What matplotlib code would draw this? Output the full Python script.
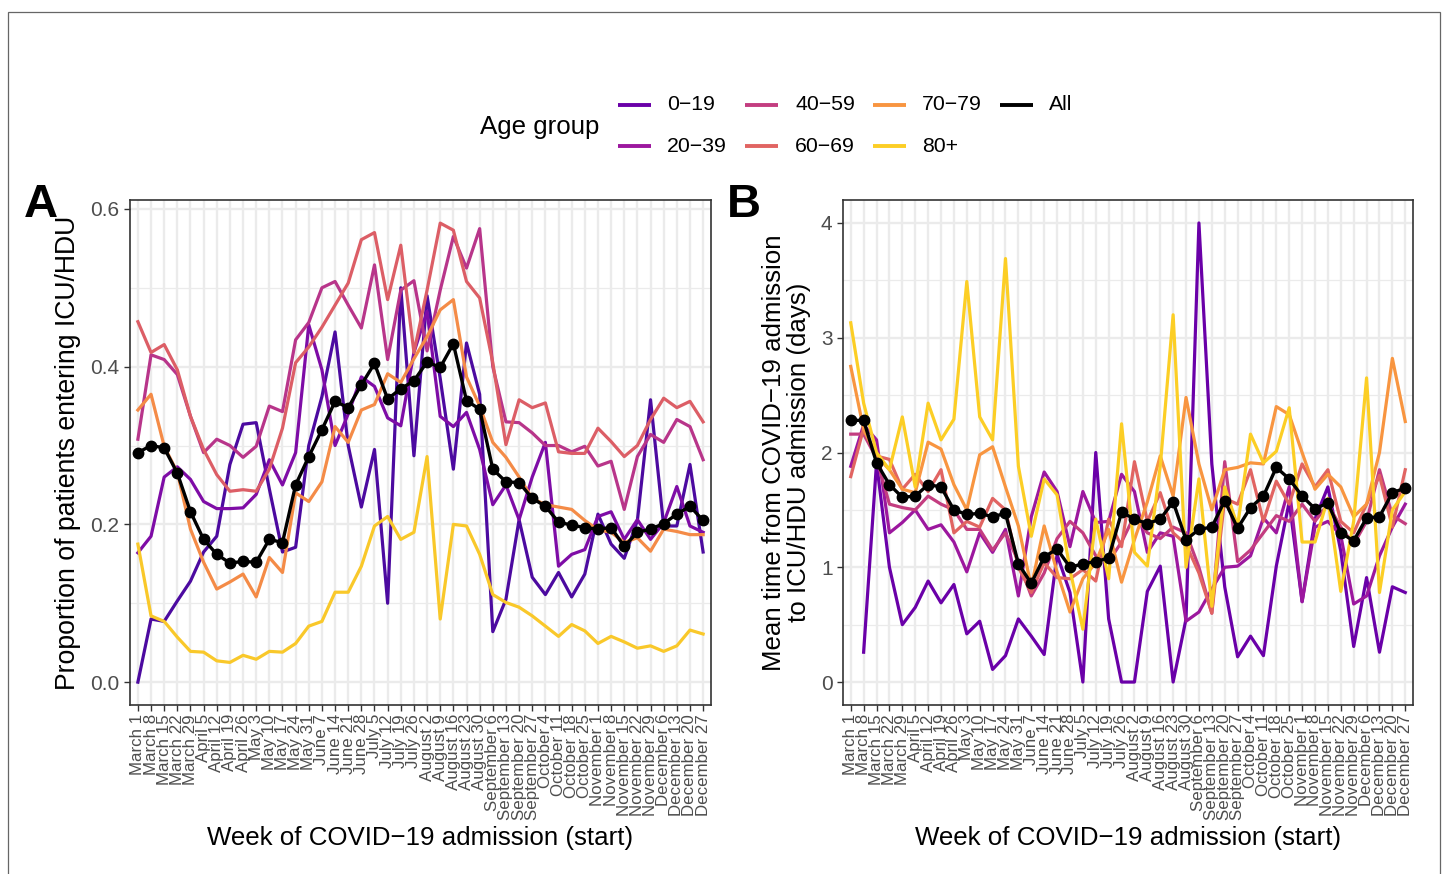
import numpy as np
import matplotlib
matplotlib.use("Agg")
import matplotlib.pyplot as plt
from matplotlib.lines import Line2D
from matplotlib.patches import Rectangle

plt.rcParams['font.family'] = ['Liberation Sans', 'DejaVu Sans']

weeks = ["March 1", "March 8", "March 15", "March 22", "March 29", "April 5", "April 12",
         "April 19", "April 26", "May 3", "May 10", "May 17", "May 24", "May 31", "June 7",
         "June 14", "June 21", "June 28", "July 5", "July 12", "July 19", "July 26",
         "August 2", "August 9", "August 16", "August 23", "August 30", "September 6",
         "September 13", "September 20", "September 27", "October 4", "October 11",
         "October 18", "October 25", "November 1", "November 8", "November 15",
         "November 22", "November 29", "December 6", "December 13", "December 20",
         "December 27"]

groups = ["0\u221219", "20\u221239", "40\u221259", "60\u221269", "70\u221279", "80+", "All"]

# Panel A: proportion entering ICU/HDU
propA_0_19 = [0.0, 0.08, 0.077, 0.103, 0.128, 0.165, 0.185, 0.276, 0.327, 0.329, 0.245, 0.165, 0.171, 0.30, 0.362, 0.444, 0.30, 0.222, 0.295, 0.10, 0.50, 0.287, 0.49, 0.385, 0.27, 0.43, 0.365, 0.064, 0.105, 0.206, 0.133, 0.111, 0.139, 0.108, 0.137, 0.213, 0.175, 0.157, 0.205, 0.358, 0.198, 0.198, 0.276, 0.165]
propA_20_39 = [0.164, 0.185, 0.26, 0.273, 0.257, 0.229, 0.22, 0.22, 0.221, 0.238, 0.282, 0.25, 0.291, 0.453, 0.396, 0.30, 0.34, 0.387, 0.375, 0.335, 0.325, 0.418, 0.47, 0.337, 0.324, 0.342, 0.295, 0.225, 0.25, 0.206, 0.26, 0.304, 0.147, 0.162, 0.168, 0.21, 0.216, 0.181, 0.206, 0.181, 0.202, 0.248, 0.198, 0.19]
propA_40_59 = [0.308, 0.415, 0.409, 0.39, 0.337, 0.291, 0.308, 0.30, 0.285, 0.299, 0.35, 0.343, 0.434, 0.456, 0.50, 0.508, 0.478, 0.449, 0.529, 0.409, 0.497, 0.509, 0.42, 0.497, 0.565, 0.525, 0.575, 0.40, 0.33, 0.329, 0.316, 0.30, 0.30, 0.292, 0.299, 0.274, 0.28, 0.219, 0.286, 0.314, 0.304, 0.333, 0.324, 0.282]
propA_60_69 = [0.457, 0.418, 0.428, 0.396, 0.337, 0.295, 0.263, 0.242, 0.244, 0.242, 0.27, 0.322, 0.405, 0.425, 0.45, 0.478, 0.506, 0.561, 0.57, 0.485, 0.554, 0.418, 0.497, 0.582, 0.573, 0.508, 0.487, 0.405, 0.301, 0.358, 0.348, 0.354, 0.292, 0.29, 0.29, 0.322, 0.305, 0.286, 0.30, 0.333, 0.36, 0.348, 0.356, 0.33]
propA_70_79 = [0.345, 0.365, 0.299, 0.266, 0.194, 0.152, 0.118, 0.127, 0.137, 0.108, 0.158, 0.139, 0.24, 0.229, 0.254, 0.324, 0.304, 0.345, 0.352, 0.391, 0.38, 0.41, 0.438, 0.472, 0.485, 0.387, 0.35, 0.304, 0.285, 0.26, 0.233, 0.225, 0.222, 0.219, 0.205, 0.193, 0.19, 0.177, 0.183, 0.166, 0.194, 0.191, 0.187, 0.187]
propA_80 = [0.175, 0.084, 0.077, 0.057, 0.039, 0.038, 0.027, 0.025, 0.034, 0.029, 0.039, 0.038, 0.049, 0.071, 0.077, 0.114, 0.114, 0.147, 0.198, 0.21, 0.181, 0.19, 0.286, 0.08, 0.20, 0.198, 0.162, 0.111, 0.101, 0.095, 0.084, 0.071, 0.058, 0.073, 0.065, 0.049, 0.058, 0.051, 0.043, 0.046, 0.039, 0.046, 0.066, 0.061]
propA_all = [0.291, 0.300, 0.297, 0.265, 0.216, 0.181, 0.162, 0.151, 0.153, 0.152, 0.181, 0.177, 0.25, 0.286, 0.32, 0.356, 0.348, 0.377, 0.404, 0.359, 0.372, 0.382, 0.406, 0.399, 0.429, 0.357, 0.346, 0.27, 0.254, 0.253, 0.233, 0.223, 0.203, 0.199, 0.196, 0.194, 0.196, 0.172, 0.19, 0.194, 0.201, 0.213, 0.223, 0.205]

# Panel B: mean time to ICU/HDU admission (days)
nan = float('nan')
timeB_0_19 = [nan, 0.26, 1.91, 1.0, 0.50, 0.65, 0.88, 0.69, 0.85, 0.42, 0.53, 0.11, 0.23, 0.55, 0.40, 0.24, 1.11, 0.78, 0.0, 2.0, 0.55, 0.0, 0.0, 0.79, 1.01, 0.0, 0.55, 4.0, 1.9, 0.83, 0.22, 0.40, 0.23, 1.01, 1.57, 0.70, 1.42, 1.70, 1.14, 0.31, 0.91, 0.26, 0.83, 0.78]
timeB_20_39 = [1.88, 2.24, 2.11, 1.30, 1.39, 1.50, 1.33, 1.37, 1.22, 0.96, 1.30, 1.13, 1.33, 0.75, 1.44, 1.83, 1.66, 1.18, 1.66, 1.39, 1.40, 1.81, 1.66, 1.13, 1.30, 1.27, 0.53, 0.61, 0.81, 1.0, 1.01, 1.10, 1.43, 1.30, 1.70, 0.70, 1.35, 1.40, 1.28, 0.68, 0.75, 1.10, 1.35, 1.55]
timeB_40_59 = [2.16, 2.16, 1.95, 1.55, 1.52, 1.50, 1.62, 1.55, 1.50, 1.33, 1.33, 1.15, 1.30, 1.05, 0.75, 0.95, 1.25, 1.40, 1.30, 1.10, 1.05, 1.22, 1.45, 1.30, 1.25, 1.35, 1.30, 1.00, 0.60, 1.92, 1.05, 1.15, 1.30, 1.45, 1.40, 1.55, 1.40, 1.55, 1.35, 1.20, 1.40, 1.85, 1.45, 1.38]
timeB_60_69 = [1.79, 2.21, 1.97, 1.94, 1.68, 1.81, 1.66, 1.85, 1.30, 1.40, 1.35, 1.60, 1.50, 1.00, 0.78, 1.04, 0.91, 0.90, 0.98, 0.88, 1.42, 1.18, 1.92, 1.40, 1.65, 1.30, 1.20, 0.95, 0.60, 1.60, 1.55, 1.85, 1.40, 1.75, 1.55, 1.90, 1.70, 1.85, 1.40, 1.30, 1.55, 1.80, 1.35, 1.85]
timeB_70_79 = [2.75, 2.20, 1.97, 1.85, 1.68, 1.65, 2.09, 2.03, 1.72, 1.50, 1.98, 2.05, 1.70, 1.36, 0.83, 1.36, 0.96, 0.61, 0.90, 1.04, 1.33, 0.87, 1.24, 1.57, 1.97, 1.62, 2.48, 1.90, 1.50, 1.85, 1.87, 1.91, 1.90, 2.40, 2.33, 2.00, 1.68, 1.81, 1.70, 1.44, 1.55, 2.00, 2.82, 2.27]
timeB_80 = [3.13, 2.43, 2.0, 1.85, 2.31, 1.70, 2.43, 2.11, 2.29, 3.49, 2.31, 2.11, 3.69, 1.88, 1.27, 1.77, 1.63, 0.98, 0.46, 1.42, 0.90, 2.25, 1.13, 1.01, 1.88, 3.2, 1.0, 1.77, 0.66, 1.70, 1.36, 2.16, 1.91, 2.01, 2.39, 1.22, 1.22, 1.6, 0.79, 1.4, 2.65, 0.78, 1.5, 1.66]
timeB_all = [2.28, 2.28, 1.91, 1.72, 1.61, 1.62, 1.72, 1.70, 1.50, 1.46, 1.47, 1.44, 1.47, 1.03, 0.86, 1.09, 1.16, 1.00, 1.03, 1.05, 1.08, 1.48, 1.42, 1.38, 1.42, 1.57, 1.24, 1.33, 1.35, 1.58, 1.34, 1.52, 1.62, 1.87, 1.77, 1.62, 1.51, 1.56, 1.30, 1.23, 1.43, 1.44, 1.65, 1.69]

colorsA = ['#4C0AA0', '#7E0CA6', '#B8358A', '#DC5E66', '#F48B47', '#F9C82A', 'black']
colorsB = ['#6A00A8', '#9C179E', '#C33D80', '#E16462', '#F89540', '#FCCE25', 'black']

W, H = 1447, 874
fig = plt.figure(figsize=(W / 100, H / 100), dpi=100)

def fx(px):
    return px / W

def fy(py):
    return 1 - py / H

# outer frame
fig.patches.append(Rectangle((fx(8), fy(880)), fx(1440) - fx(8), fy(12) - fy(880),
                             transform=fig.transFigure, fill=False, edgecolor='#666666', lw=0.9))

tick_col = '#4D4D4D'
grid_col = '#EBEBEB'

def style_axes(ax, ylim, yticks, yminor, ylabels):
    x = np.arange(len(weeks))
    ax.set_xlim(-0.6, len(weeks) - 1 + 0.6)
    ax.set_ylim(*ylim)
    ax.set_xticks(x)
    ax.set_xticklabels(weeks, rotation=90, fontsize=12.2, color=tick_col, va='top', ha='center')
    ax.set_yticks(yticks)
    ax.set_yticklabels(ylabels, fontsize=15, color=tick_col)
    ax.set_yticks(yminor, minor=True)
    ax.tick_params(axis='both', which='major', length=4, width=1.0, color='#333333', pad=3.5)
    ax.tick_params(axis='x', which='major', pad=2.5)
    ax.tick_params(axis='y', which='minor', length=0)
    ax.grid(True, which='major', color=grid_col, lw=1.7, zorder=0)
    ax.grid(True, which='minor', axis='y', color=grid_col, lw=0.9, zorder=0)
    ax.set_axisbelow(True)
    for s in ax.spines.values():
        s.set_color('#333333')
        s.set_linewidth(1.2)

axA = fig.add_axes([fx(130), fy(705), fx(711) - fx(130), fy(200) - fy(705)])
axB = fig.add_axes([fx(843), fy(705), fx(1413) - fx(843), fy(200) - fy(705)])

seriesA = [propA_0_19, propA_20_39, propA_40_59, propA_60_69, propA_70_79, propA_80, propA_all]
seriesB = [timeB_0_19, timeB_20_39, timeB_40_59, timeB_60_69, timeB_70_79, timeB_80, timeB_all]

for ax, series, cols in [(axA, seriesA, colorsA), (axB, seriesB, colorsB)]:
    x = np.arange(len(weeks))
    for i, (vals, c) in enumerate(zip(series, cols)):
        if i == 6:
            ax.plot(x, vals, color=c, lw=2.4, marker='o', ms=7.5, zorder=5)
        else:
            ax.plot(x, vals, color=c, lw=2.3, zorder=3)

style_axes(axA, (-0.029, 0.6113), [0.0, 0.2, 0.4, 0.6], [0.1, 0.3, 0.5],
           ["0.0", "0.2", "0.4", "0.6"])
style_axes(axB, (-0.2, 4.2), [0, 1, 2, 3, 4], [0.5, 1.5, 2.5, 3.5],
           ["0", "1", "2", "3", "4"])

axA.set_xlabel("Week of COVID\u221219 admission (start)", fontsize=18.6, labelpad=4)
axB.set_xlabel("Week of COVID\u221219 admission (start)", fontsize=18.6, labelpad=4)
axA.set_ylabel("Proportion of patients entering ICU/HDU", fontsize=19.2, labelpad=7)
axB.set_ylabel("Mean time from COVID\u221219 admission\nto ICU/HDU admission (days)",
               fontsize=18.6, labelpad=7, linespacing=1.05)

fig.text(fx(24), fy(205), "A", fontsize=34, fontweight='bold', va='center', ha='left')
fig.text(fx(727), fy(205), "B", fontsize=34, fontweight='bold', va='center', ha='left')

# legend (manual layout)
fig.text(fx(480), fy(127), "Age group", fontsize=18.6, va='center', ha='left')
leg_cols = [(618, 667), (745, 795), (873, 922), (1000, 1049)]
leg_rows = [105, 146]
k = 0
for ci, (lx, tx) in enumerate(leg_cols):
    for ri, ry in enumerate(leg_rows):
        if k >= len(groups):
            break
        fig.add_artist(Line2D([fx(lx), fx(lx + 33)], [fy(ry), fy(ry)], transform=fig.transFigure,
                              color=colorsB[k], lw=2.8, solid_capstyle='butt'))
        fig.text(fx(tx), fy(ry), groups[k], fontsize=15.3, va='center', ha='left')
        k += 1

fig.savefig("out.png", dpi=100)
